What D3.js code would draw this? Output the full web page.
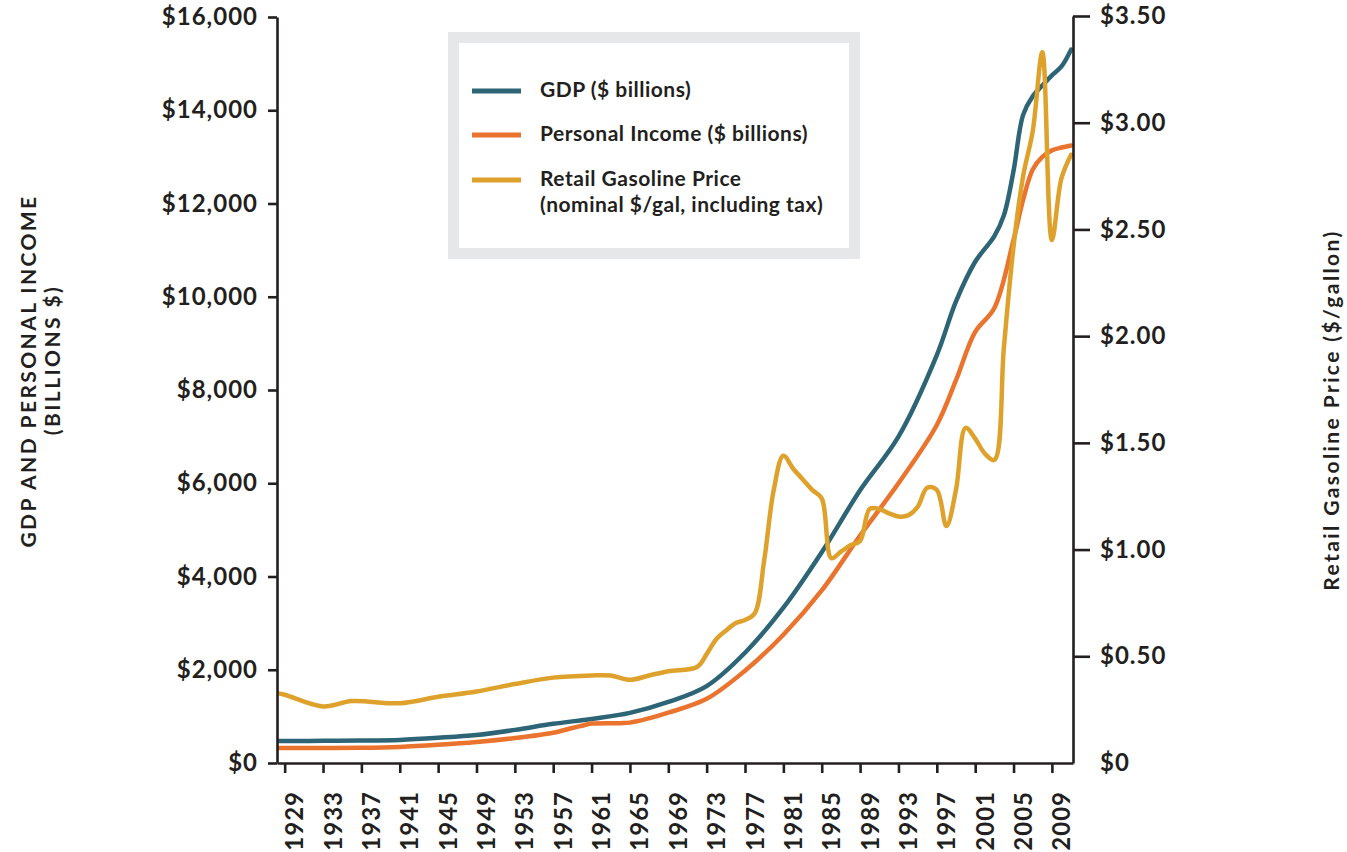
<!DOCTYPE html>
<html>
<head>
<meta charset="utf-8">
<script src="https://cdn.jsdelivr.net/npm/d3@7"></script>
<style>
  body { margin: 0; background: #fff; }
  svg text { font-family: Lato, "Open Sans", sans-serif; fill: #231f20; font-weight: 700; }
</style>
</head>
<body>
<svg id="chart" width="1347" height="852"></svg>
<script>
// Series
const gdpYears = [1928, 1929, 1933, 1937, 1941, 1945, 1949, 1953, 1957, 1961, 1965, 1969, 1973, 1977, 1981, 1985, 1989, 1993, 1997, 1999, 2001, 2003, 2004, 2005, 2006, 2007, 2008, 2009, 2010, 2011];
const gdpValues = [470, 473, 475, 480, 495, 540, 600, 710, 840, 945, 1075, 1310, 1650, 2365, 3330, 4520, 5850, 7000, 8750, 9900, 10750, 11300, 11750, 12700, 13900, 14300, 14530, 14750, 14940, 15300];

const incomeYears = [1928, 1929, 1933, 1937, 1941, 1945, 1949, 1953, 1957, 1959, 1960, 1961, 1964, 1965, 1969, 1973, 1977, 1981, 1985, 1989, 1993, 1997, 1999, 2001, 2003, 2005, 2006, 2007, 2008, 2009, 2010, 2011];
const incomeValues = [322, 322, 322, 325, 344, 390, 450, 535, 650, 752, 800, 845, 855, 866, 1080, 1376, 1980, 2750, 3700, 4880, 6000, 7250, 8210, 9245, 9760, 11220, 12080, 12730, 13000, 13140, 13200, 13245];

const gasYears = [1928, 1929, 1933, 1936, 1941, 1945, 1949, 1953, 1957, 1961, 1963, 1965, 1967, 1969, 1972, 1973, 1974, 1975, 1976, 1977, 1978, 1979, 1980, 1981, 1982, 1983, 1984, 1985, 1986, 1987, 1988, 1989, 1990, 1991, 1992, 1993, 1994, 1995, 1996, 1997, 1998, 1999, 2000, 2001, 2002, 2003, 2004, 2005, 2006, 2007, 2008, 2009, 2010, 2011];
const gasValues = [0.33, 0.32, 0.265, 0.29, 0.28, 0.31, 0.335, 0.37, 0.40, 0.41, 0.41, 0.39, 0.41, 0.43, 0.45, 0.51, 0.58, 0.62, 0.655, 0.67, 0.70, 0.95, 1.28, 1.44, 1.38, 1.33, 1.28, 1.24, 0.96, 0.99, 1.02, 1.04, 1.19, 1.19, 1.17, 1.155, 1.16, 1.20, 1.29, 1.28, 1.11, 1.28, 1.57, 1.52, 1.45, 1.42, 1.95, 2.42, 2.75, 2.96, 3.33, 2.45, 2.74, 2.85];

const yearTicks = d3.range(1929, 2010, 4);
const leftTicks = d3.range(0, 16001, 2000);
const rightTicks = [0, 0.5, 1, 1.5, 2, 2.5, 3, 3.5];

const legendItems = [
    {label: ["GDP ($ billions)"], color: "#2d6577"},
    {label: ["Personal Income ($ billions)"], color: "#ea732e"},
    {label: ["Retail Gasoline Price", "(nominal $/gal, including tax)"], color: "#dea22c"}
];

let svg = d3.select("#chart");

let plotLeft = 277, plotRight = 1073, plotTop = 17, plotBottom = 763;

// Escalas
let x = d3.scaleLinear().domain([1928.2, 2011.2]).range([plotLeft, plotRight]);
let yLeft = d3.scaleLinear().domain([0, 16000]).range([plotBottom, plotTop]);
let yRight = d3.scaleLinear().domain([0, 3.5]).range([plotBottom, 16]);

svg.append("rect").attr("width", 1347).attr("height", 852).attr("fill", "#fff");

svg.append("clipPath").attr("id", "plot-clip")
    .append("rect")
    .attr("x", plotLeft).attr("y", 0)
    .attr("width", plotRight - plotLeft).attr("height", plotBottom);

let curve = d3.curveCatmullRom.alpha(0.5);

function drawSeries(years, values, scale, color) {
    let line = d3.line()
        .x((d, i) => x(years[i]))
        .y(d => scale(d))
        .curve(curve);
    svg.append("path")
        .datum(values)
        .attr("clip-path", "url(#plot-clip)")
        .attr("fill", "none")
        .attr("stroke", color)
        .attr("stroke-width", 4.5)
        .attr("stroke-linejoin", "round")
        .attr("stroke-linecap", "round")
        .attr("d", line);
}

drawSeries(gdpYears, gdpValues, yLeft, legendItems[0].color);
drawSeries(incomeYears, incomeValues, yLeft, legendItems[1].color);
drawSeries(gasYears, gasValues, yRight, legendItems[2].color);

// Ejes
let leftAxis = svg.append("g")
    .attr("transform", `translate(${plotLeft},0)`)
    .call(d3.axisLeft(yLeft)
        .tickValues(leftTicks)
        .tickSize(9)
        .tickSizeOuter(0)
        .tickPadding(10)
        .tickFormat(d => "$" + d3.format(",")(d)));

let rightAxis = svg.append("g")
    .attr("transform", `translate(${plotRight},0)`)
    .call(d3.axisRight(yRight)
        .tickValues(rightTicks)
        .tickSize(17)
        .tickSizeOuter(0)
        .tickPadding(10)
        .tickFormat(d => d === 0 ? "$0" : "$" + d3.format(".2f")(d)));
rightAxis.selectAll(".tick").filter(d => d === 0).select("line").remove();
rightAxis.selectAll(".tick text").attr("x", 27);

let bottomAxis = svg.append("g")
    .attr("transform", `translate(0,${plotBottom})`)
    .call(d3.axisBottom(x)
        .tickValues(yearTicks)
        .tickSize(10)
        .tickSizeOuter(0)
        .tickFormat(d => String(d)));
bottomAxis.selectAll(".tick text")
    .attr("transform", "translate(18,28) rotate(-90)")
    .attr("x", 0).attr("y", 0).attr("dy", 0)
    .attr("text-anchor", "end");

[leftAxis, rightAxis, bottomAxis].forEach(g => {
    g.selectAll(".domain").attr("stroke", "#231f20").attr("stroke-width", 2.6);
    g.selectAll(".tick line").attr("stroke", "#231f20").attr("stroke-width", 2.6);
    g.selectAll(".tick text")
        .attr("font-size", 24)
        .attr("font-weight", 700)
        .attr("letter-spacing", 1)
        .style("fill", "#231f20");
});

// Titulos de los ejes
function axisTitle(tx, ty, label) {
    svg.append("text")
        .attr("transform", `translate(${tx},${ty}) rotate(-90)`)
        .attr("text-anchor", "middle")
        .attr("font-size", 21)
        .attr("letter-spacing", 2.4)
        .text(label);
}
axisTitle(36, 371, "GDP AND PERSONAL INCOME");
axisTitle(60, 360, "(BILLIONS $)");
axisTitle(1339, 410, "Retail Gasoline Price ($/gallon)");

// Leyenda
svg.append("rect")
    .attr("x", 453.5).attr("y", 37.5)
    .attr("width", 401).attr("height", 216)
    .attr("fill", "#fff")
    .attr("stroke", "#e6e7e8")
    .attr("stroke-width", 11);

let legendRows = [97, 141, 186];
legendItems.forEach((item, i) => {
    let g = svg.append("g");
    g.append("line")
        .attr("x1", 472).attr("x2", 521)
        .attr("y1", legendRows[i] - 6).attr("y2", legendRows[i] - 6)
        .attr("stroke", item.color)
        .attr("stroke-width", 5);
    item.label.forEach((t, j) => {
        g.append("text")
            .attr("x", 540)
            .attr("y", legendRows[i] + j * 26)
            .attr("font-size", 21)
            .attr("letter-spacing", 0.5)
            .text(t);
    });
});
</script>
</body>
</html>
